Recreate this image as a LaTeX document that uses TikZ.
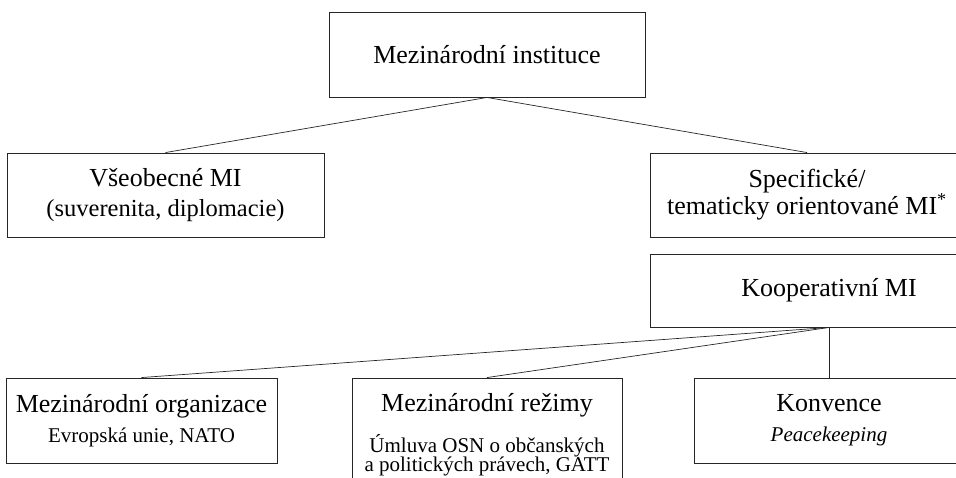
\documentclass[tikz,border=0pt]{standalone}
\usepackage{fontspec}
\setmainfont{Liberation Serif}
\usetikzlibrary{positioning}
\newcommand{\subtx}[1]{{\fontsize{21}{20}\selectfont #1}}
\tikzset{
	box/.style = {
			draw            = black!85,
			line width      = 0.9pt,
			rectangle,
			inner sep       = 0pt,
			align           = center,
			font            = \fontsize{26}{27}\selectfont,
		},
	link/.style = {draw=black!85, line width=0.7pt}
}

\begin{document}
\begin{tikzpicture}[x=1pt, y=-1pt]
			\useasboundingbox (0,0) rectangle (956,477);
			\clip (0,0) rectangle (956,477);
			% upper level
			\node[box, minimum width=316, minimum height=85] (inst) at (487,54.5) {Mezinárodní instituce};
			\node[box, minimum width=317, minimum height=84] (gen) at (165.5,195) {Všeobecné MI\\[3pt]{\fontsize{24.5}{20}\selectfont (suverenita, diplomacie)}\rule[-1pt]{0pt}{0pt}};
			\node[box, minimum width=314, minimum height=84] (spec) at (807,195) {Specifické/\\tematicky orientované MI\textsuperscript{*}};
			\node[box, minimum width=358, minimum height=73] (coop) at (829,290.5) {Kooperativní MI};
			% lower level
			\node[box, minimum width=271, minimum height=85] (org) at (141.5,420.5) {Mezinárodní organizace\\[3pt]\subtx{Evropská unie, NATO}};
			\node[box, minimum width=270, minimum height=114] (reg) at (487,435) {Mezinárodní režimy\\[14pt]\subtx{Úmluva OSN o občanských}\\[-8pt]\subtx{a politických právech, GATT}};
			\node[box, minimum width=270, minimum height=85] (conv) at (829,420.5) {Konvence\\[3pt]\subtx{\itshape Peacekeeping}};
			% connectors
			\draw[link] (inst.south) -- (gen.north);
			\draw[link] (inst.south) -- (spec.north);
			\draw[link] (coop.south) -- (org.north);
			\draw[link] (coop.south) -- (reg.north);
			\draw[link] (coop.south) -- (conv.north);
		\end{tikzpicture}
\end{document}
